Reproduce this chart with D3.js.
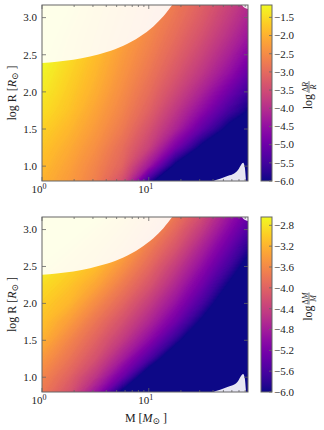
<!DOCTYPE html>
<html>
<head>
<meta charset="utf-8">
<script src="https://cdn.jsdelivr.net/npm/d3@7"></script>
<style>
  body { margin: 0; background: #fff; }
  text { font-family: "Liberation Serif", "DejaVu Serif", serif; fill: #222; }
</style>
</head>
<body>
<div id="chart"></div>
<script>
// grid of the maps: log M (columns) and log R (rows, bottom to top)
const gridLogM = [0, 0.25, 0.5, 0.75, 1.0, 1.25, 1.5, 1.75, 2.0];
const gridLogR = [0.75, 1.0, 1.25, 1.5, 1.75, 2.0, 2.25, 2.5, 2.75, 3.0, 3.25];

// log dR/R, one row per gridLogR value
const logDRoverR = [
  [-2.01, -2.30, -2.70, -3.50, -5.95, -7.6, -8.4, -9.2, -10.0],
  [-1.88, -2.20, -2.60, -3.10, -4.35, -6.2, -7.8, -8.6, -9.4],
  [-1.76, -2.07, -2.45, -2.95, -3.65, -4.85, -6.2, -7.6, -8.4],
  [-1.62, -1.92, -2.30, -2.75, -3.38, -4.15, -5.15, -6.2, -7.5],
  [-1.46, -1.77, -2.17, -2.60, -3.13, -3.82, -4.58, -5.45, -6.2],
  [-1.33, -1.67, -2.04, -2.48, -2.95, -3.53, -4.18, -4.95, -5.75],
  [-1.22, -1.58, -1.94, -2.37, -2.80, -3.30, -3.85, -4.50, -5.30],
  [-1.11, -1.48, -1.85, -2.28, -2.67, -3.12, -3.62, -4.20, -4.90],
  [-0.98, -1.40, -1.78, -2.17, -2.56, -2.97, -3.42, -3.95, -4.55],
  [-0.84, -1.27, -1.69, -2.08, -2.47, -2.84, -3.25, -3.75, -4.30],
  [-0.68, -1.13, -1.60, -1.99, -2.38, -2.73, -3.12, -3.58, -4.10]
];

// log dM/M, same grid
const logDMoverM = [
  [-3.80, -4.20, -5.00, -6.30, -7.2, -8.0, -8.8, -9.6, -10.4],
  [-3.64, -4.00, -4.52, -5.30, -6.50, -7.4, -8.2, -9.0, -9.8],
  [-3.45, -3.80, -4.20, -4.80, -5.55, -6.60, -7.5, -8.3, -9.1],
  [-3.23, -3.62, -4.00, -4.45, -5.03, -5.80, -6.80, -7.6, -8.4],
  [-3.09, -3.40, -3.80, -4.20, -4.68, -5.28, -6.10, -7.1, -8.1],
  [-2.99, -3.18, -3.57, -3.96, -4.42, -4.95, -5.62, -6.50, -7.50],
  [-2.86, -3.05, -3.32, -3.73, -4.15, -4.68, -5.28, -6.05, -6.90],
  [-2.69, -2.92, -3.12, -3.50, -3.93, -4.43, -5.00, -5.65, -6.45],
  [-2.46, -2.74, -2.98, -3.28, -3.73, -4.16, -4.74, -5.35, -6.05],
  [-2.13, -2.49, -2.80, -3.10, -3.50, -3.94, -4.46, -5.08, -5.70],
  [-1.97, -2.07, -2.50, -2.90, -3.30, -3.73, -4.18, -4.82, -5.42]
];

// masked regions (drawn pale): upper left cap, low bump and the upper right corner
const capLogM = [-0.05, 0, 0.138, 0.293, 0.45, 0.606, 0.762, 0.918, 1.043, 1.137, 1.216, 1.26];
const capLogR = [2.386, 2.388, 2.405, 2.432, 2.477, 2.536, 2.622, 2.747, 2.882, 3.018, 3.162, 3.24];
const bumpLogM = [1.59, 1.603, 1.668, 1.743, 1.8, 1.837, 1.865, 1.884, 1.9, 1.912, 1.92];
const bumpLogR = [0.75, 0.797, 0.83, 0.87, 0.9, 0.95, 1.02, 1.045, 0.98, 0.8, 0.75];
const cornerLogM = [1.86, 1.893, 1.93, 1.96];
const cornerLogR = [3.2, 3.135, 3.115, 3.11];

const massTicks = [1, 10];
const massMinor = [2, 3, 4, 5, 6, 7, 8, 9, 20, 30, 40, 50, 60, 70, 80];
const radiusTicks = [1.0, 1.5, 2.0, 2.5, 3.0];
const cbTicksR = [-1.5, -2.0, -2.5, -3.0, -3.5, -4.0, -4.5, -5.0, -5.5, -6.0];
const cbTicksM = [-2.8, -3.2, -3.6, -4.0, -4.4, -4.8, -5.2, -5.6, -6.0];

const W = 324, H = 430;
const svg = d3.select('#chart').append('svg').attr('width', W).attr('height', H);

const xScale = d3.scaleLog().domain([1, 85]).range([42, 248]);
const cbX = 261, cbW = 11;

function drawPanel(id, top, bottom, values, vmax, cbTicks, label) {
    const yScale = d3.scaleLinear().domain([0.8, 3.17]).range([bottom, top]);
    const color = d3.scaleSequential(d3.interpolatePlasma).domain([-6, vmax]).clamp(true);
    const g = svg.append('g');

    g.append('clipPath').attr('id', 'clip' + id)
     .append('rect').attr('x', 42).attr('y', top).attr('width', 206).attr('height', bottom - top);
    const plot = g.append('g').attr('clip-path', `url(#clip${id})`);

    // everything below the lowest level is the darkest colour
    plot.append('rect').attr('x', 42).attr('y', top).attr('width', 206).attr('height', bottom - top)
        .attr('fill', color(-6));

    const nx = gridLogM.length, ny = gridLogR.length;
    const dm = gridLogM[1] - gridLogM[0], dr = gridLogR[1] - gridLogR[0];
    const step = 0.03;
    const thresholds = d3.range(-6 + step, vmax, step);
    const contours = d3.contours().size([nx, ny]).thresholds(thresholds)(values.flat());
    const proj = d3.geoTransform({
        point: function(cx, cy) {
            const m = gridLogM[0] + (cx - 0.5) * dm;
            const r = gridLogR[0] + (cy - 0.5) * dr;
            this.stream.point(xScale(Math.pow(10, m)), yScale(r));
        }
    });
    const path = d3.geoPath(proj);
    plot.selectAll('path.band').data(contours).enter().append('path')
        .attr('class', 'band')
        .attr('d', path)
        .attr('fill', d => color(d.value + step / 2))
        .attr('stroke', d => color(d.value + step / 2))
        .attr('stroke-width', 0.3);

    // pale masks
    const X = m => xScale(Math.pow(10, m));
    const capArea = d3.area().x((d, i) => X(capLogM[i])).y0((d, i) => yScale(capLogR[i])).y1(yScale(3.4))
                      .curve(d3.curveMonotoneX);
    plot.append('path').attr('d', capArea(capLogM)).attr('fill', '#fff').attr('fill-opacity', 0.9);
    const bumpArea = d3.area().x((d, i) => X(bumpLogM[i])).y0(yScale(0.6)).y1((d, i) => yScale(bumpLogR[i]))
                       .curve(d3.curveMonotoneX);
    plot.append('path').attr('d', bumpArea(bumpLogM)).attr('fill', '#fff').attr('fill-opacity', 0.9);
    const cornerArea = d3.area().x((d, i) => X(cornerLogM[i])).y0((d, i) => yScale(cornerLogR[i])).y1(yScale(3.4))
                         .curve(d3.curveMonotoneX);
    plot.append('path').attr('d', cornerArea(cornerLogM)).attr('fill', '#fff').attr('fill-opacity', 0.9);

    // frame and ticks
    const axisColor = '#666';
    g.append('rect').attr('x', 42).attr('y', top).attr('width', 206).attr('height', bottom - top)
     .attr('fill', 'none').attr('stroke', axisColor).attr('stroke-width', 1);

    const ticks = g.append('g').attr('stroke', axisColor).attr('stroke-width', 0.8);
    massTicks.forEach(v => {
        const x = xScale(v);
        ticks.append('line').attr('x1', x).attr('x2', x).attr('y1', bottom).attr('y2', bottom - 4);
        ticks.append('line').attr('x1', x).attr('x2', x).attr('y1', top).attr('y2', top + 4);
    });
    massMinor.forEach(v => {
        const x = xScale(v);
        ticks.append('line').attr('x1', x).attr('x2', x).attr('y1', bottom).attr('y2', bottom - 2);
        ticks.append('line').attr('x1', x).attr('x2', x).attr('y1', top).attr('y2', top + 2);
    });
    radiusTicks.forEach(v => {
        const y = yScale(v);
        ticks.append('line').attr('x1', 42).attr('x2', 46).attr('y1', y).attr('y2', y);
        ticks.append('line').attr('x1', 248).attr('x2', 244).attr('y1', y).attr('y2', y);
    });

    // tick labels
    radiusTicks.forEach(v => {
        g.append('text').attr('x', 37).attr('y', yScale(v)).attr('dy', '0.35em')
         .attr('text-anchor', 'end').attr('font-size', 11).text(d3.format('.1f')(v));
    });
    massTicks.forEach(v => {
        const t = g.append('text').attr('x', xScale(v) - 3).attr('y', bottom + 12)
                   .attr('text-anchor', 'middle').attr('font-size', 11);
        t.append('tspan').text('10');
        t.append('tspan').attr('dy', -4).attr('font-size', 8).text(Math.round(Math.log10(v)));
    });

    // y label
    const yl = g.append('text').attr('transform', `translate(16,${(top + bottom) / 2}) rotate(-90)`)
                .attr('text-anchor', 'middle').attr('font-size', 12);
    yl.append('tspan').text('log R [');
    yl.append('tspan').attr('font-style', 'italic').text('R');
    yl.append('tspan').attr('font-size', 9).attr('dy', 2).text('\u2299');
    yl.append('tspan').attr('dy', -2).text(' ]');

    // colour bar
    const cbScale = d3.scaleLinear().domain([-6, vmax]).range([bottom, top]);
    const grad = svg.append('defs').append('linearGradient').attr('id', 'grad' + id)
                    .attr('x1', 0).attr('x2', 0).attr('y1', 1).attr('y2', 0);
    d3.range(0, 1.0001, 0.05).forEach(f => {
        grad.append('stop').attr('offset', f).attr('stop-color', color(-6 + f * (vmax + 6)));
    });
    g.append('rect').attr('x', cbX).attr('y', top).attr('width', cbW).attr('height', bottom - top)
     .attr('fill', `url(#grad${id})`).attr('stroke', axisColor).attr('stroke-width', 1);
    cbTicks.forEach(v => {
        const y = cbScale(v);
        g.append('line').attr('x1', cbX + cbW - 3).attr('x2', cbX + cbW).attr('y1', y).attr('y2', y)
         .attr('stroke', axisColor).attr('stroke-width', 0.8);
        g.append('text').attr('x', cbX + cbW + 2).attr('y', y).attr('dy', '0.35em')
         .attr('font-size', 11).text(d3.format('.1f')(v));
    });

    // colour bar label: log (dX / X)
    const lg = g.append('g').attr('transform', `translate(312,${(top + bottom) / 2}) rotate(-90)`);
    lg.append('text').attr('x', -1).attr('y', 0).attr('text-anchor', 'end').attr('font-size', 12).text('log');
    const num = lg.append('text').attr('x', 6).attr('y', -4.5).attr('text-anchor', 'middle').attr('font-size', 8);
    num.append('tspan').text('\u0394');
    num.append('tspan').attr('font-style', 'italic').text(label);
    lg.append('line').attr('x1', 0).attr('x2', 12).attr('y1', -3).attr('y2', -3)
      .attr('stroke', '#222').attr('stroke-width', 0.6);
    lg.append('text').attr('x', 6).attr('y', 4).attr('text-anchor', 'middle').attr('font-size', 8)
      .attr('font-style', 'italic').text(label);
}

drawPanel('R', 5, 181, logDRoverR, -1.16, cbTicksR, 'R');
drawPanel('M', 217, 392, logDMoverM, -2.64, cbTicksM, 'M');

// x label under the lower panel
const xl = svg.append('text').attr('x', 146).attr('y', 422).attr('text-anchor', 'middle').attr('font-size', 12);
xl.append('tspan').text('M [');
xl.append('tspan').attr('font-style', 'italic').text('M');
xl.append('tspan').attr('font-size', 9).attr('dy', 2).text('\u2299');
xl.append('tspan').attr('dy', -2).text(' ]');
</script>
</body>
</html>
